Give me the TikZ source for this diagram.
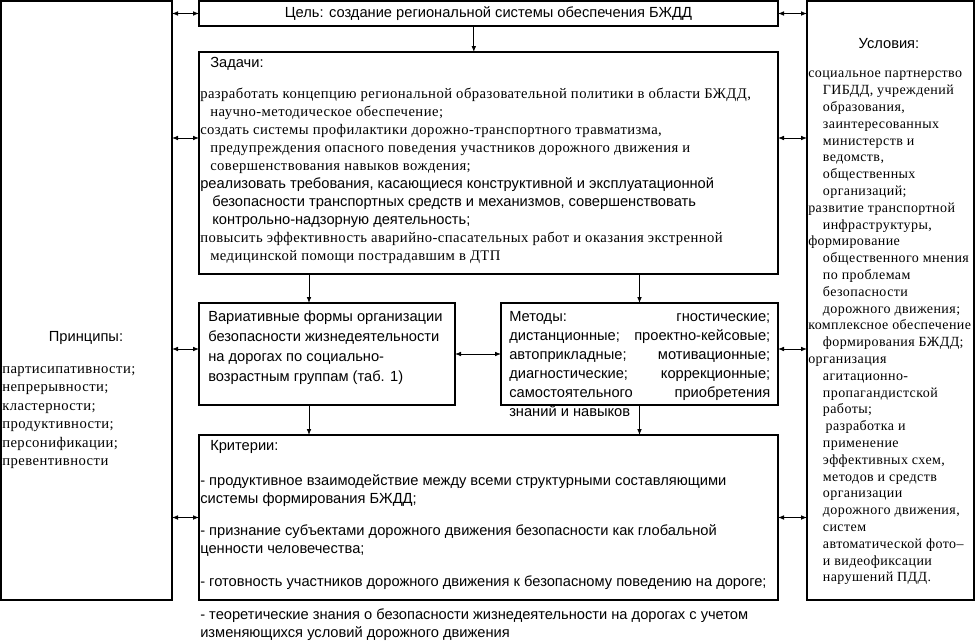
\documentclass[tikz,border=0pt]{standalone}
\usepackage{fontspec}
\setmainfont{Liberation Serif}[LetterSpace=3]
\setsansfont{Liberation Sans}
\usetikzlibrary{arrows.meta, positioning}

\newcommand{\mline}[1]{\hbox to 195.75pt{#1}}

\begin{document}
\begin{tikzpicture}[
  x=0.75pt, y=-0.75pt,
  box/.style={draw=black, line width=0.8pt, inner sep=0pt, outer sep=0pt},
  txt/.style={font=\sffamily\fontsize{11}{13.5}\selectfont, inner sep=0pt,
              align=left, anchor=north west},
  ser/.style={font=\rmfamily\fontsize{11}{13.5}\selectfont, inner sep=0pt,
              align=left, anchor=north west},
  arr/.style={-{Latex[length=4.5pt, width=3.5pt]}, line width=0.6pt},
  darr/.style={{Latex[length=4.5pt, width=3.5pt]}-{Latex[length=4.5pt, width=3.5pt]},
               line width=0.6pt}
]
  \useasboundingbox (0,0) rectangle (976,643);

  % ========== side boxes ==========
  \node[box, minimum width=128.25pt, minimum height=449.25pt] (princ) at (86.5, 300.5) {};
  \node[box, minimum width=125.25pt, minimum height=449.25pt] (cond) at (890.5, 300.5) {};

  % ========== middle column ==========
  \node[box, minimum width=434.25pt, minimum height=18.75pt,
        font=\sffamily\fontsize{11}{12}\selectfont] (goal) at (488.5, 13.5)
    {Цель: создание региональной системы обеспечения БЖДД};
  \node[box, minimum width=434.25pt, minimum height=166.5pt] (tasks) at (488.5, 163) {};
  \node[box, minimum width=192pt, minimum height=76.5pt] (var) at (327, 354) {};
  \node[box, minimum width=207.75pt, minimum height=76.5pt] (meth) at (639.5, 354) {};
  \node[box, minimum width=434.25pt, minimum height=123.75pt] (crit) at (488.5, 517.5) {};

  % ========== texts ==========
  \node[txt] (tasksT) at (210, 57) {Задачи:};
  \node[ser] (tasksL) at (200, 88) {%
    разработать концепцию региональной образовательной политики в области БЖДД,\\
    \hspace*{7.5pt}научно-методическое обеспечение;\\
    создать системы профилактики дорожно-транспортного травматизма,\\
    \hspace*{7.5pt}предупреждения опасного поведения участников дорожного движения и\\
    \hspace*{7.5pt}совершенствования навыков вождения;\\
    {\sffamily реализовать требования, касающиеся конструктивной и эксплуатационной}\\
    {\sffamily\hspace*{9pt}безопасности транспортных средств и механизмов, совершенствовать}\\
    {\sffamily\hspace*{9pt}контрольно-надзорную деятельность;}\\
    повысить эффективность аварийно-спасательных работ и оказания экстренной\\
    \hspace*{7.5pt}медицинской помощи пострадавшим в ДТП};

  \node[txt, anchor=center] (princT) at (86, 338) {Принципы:};
  \node[ser, font=\rmfamily\fontsize{11}{13.9}\selectfont] (princL) at (2, 366) {%
    партисипативности;\\ непрерывности;\\ кластерности;\\ продуктивности;\\
    персонификации;\\ превентивности};

  \node[txt, anchor=center] (condT) at (889, 44) {Условия:};
  \node[ser, font=\rmfamily\fontsize{10.5}{12.6}\selectfont] (condL) at (808, 71) {%
    социальное партнерство\\
    \hspace*{11pt}ГИБДД, учреждений\\
    \hspace*{11pt}образования,\\
    \hspace*{11pt}заинтересованных\\
    \hspace*{11pt}министерств и\\
    \hspace*{11pt}ведомств,\\
    \hspace*{11pt}общественных\\
    \hspace*{11pt}организаций;\\
    развитие транспортной\\
    \hspace*{11pt}инфраструктуры,\\
    формирование\\
    \hspace*{11pt}общественного мнения\\
    \hspace*{11pt}по проблемам\\
    \hspace*{11pt}безопасности\\
    \hspace*{11pt}дорожного движения;\\
    комплексное обеспечение\\
    \hspace*{11pt}формирования БЖДД;\\
    организация\\
    \hspace*{11pt}агитационно-\\
    \hspace*{11pt}пропагандистской\\
    \hspace*{11pt}работы;\\
    \hspace*{13pt}разработка и\\
    \hspace*{11pt}применение\\
    \hspace*{11pt}эффективных схем,\\
    \hspace*{11pt}методов и средств\\
    \hspace*{11pt}организации\\
    \hspace*{11pt}дорожного движения,\\
    \hspace*{11pt}систем\\
    \hspace*{11pt}автоматической фото–\\
    \hspace*{11pt}и видеофиксации\\
    \hspace*{11pt}нарушений ПДД.};

  \node[txt, font=\sffamily\fontsize{11}{15}\selectfont] (varT) at (208, 311) {%
    Вариативные формы организации\\
    безопасности жизнедеятельности\\
    на дорогах по социально-\\
    возрастным группам (таб. 1)};

  \node[txt, font=\sffamily\fontsize{11}{14.25}\selectfont] (methT) at (509, 311) {%
    \mline{Методы:\hfill гностические;}\\
    \mline{дистанционные;\hfill проектно-кейсовые;}\\
    \mline{автоприкладные;\hfill мотивационные;}\\
    \mline{диагностические;\hfill коррекционные;}\\
    \mline{самостоятельного\hfill приобретения}\\
    знаний и навыков};

  \node[txt] (critT) at (210, 440) {Критерии:};
  \node[txt] (critL) at (200, 474) {%
    - продуктивное взаимодействие между всеми структурными составляющими\\
    системы формирования БЖДД;\\[11pt]
    - признание субъектами дорожного движения безопасности как глобальной\\
    ценности человечества;\\[11pt]
    - готовность участников дорожного движения к безопасному поведению на дороге;\\[11pt]
    - теоретические знания о безопасности жизнедеятельности на дорогах с учетом\\
    изменяющихся условий дорожного движения};

  % ========== arrows down ==========
  \draw[arr] ([xshift=-11pt]goal.south) -- ([xshift=-11pt]tasks.north);
  \draw[arr] ([xshift=-13.5pt]tasks.south -| var.north) -- ([xshift=-13.5pt]var.north);
  \draw[arr] (tasks.south -| meth.north) -- (meth.north);
  \draw[arr] ([xshift=-13.5pt]var.south) -- ([xshift=-13.5pt]var.south |- crit.north);
  \draw[arr] (meth.south) -- (meth.south |- crit.north);
  \draw[darr] (var.east) -- (meth.west);

  % ========== arrows to the side boxes ==========
  \draw[darr] (princ.east |- goal.west) -- (goal.west);
  \draw[darr] (princ.east |- 0,138) -- (tasks.west |- 0,138);
  \draw[darr] ([yshift=3.75pt]princ.east |- var.west) -- ([yshift=3.75pt]var.west);
  \draw[darr] (princ.east |- crit.west) -- (crit.west);
  \draw[darr] (goal.east) -- (goal.east -| cond.west);
  \draw[darr] (tasks.east |- 0,138) -- (cond.west |- 0,138);
  \draw[darr] ([yshift=3.75pt]meth.east) -- ([yshift=3.75pt]meth.east -| cond.west);
  \draw[darr] (crit.east) -- (crit.east -| cond.west);

\end{tikzpicture}
\end{document}
